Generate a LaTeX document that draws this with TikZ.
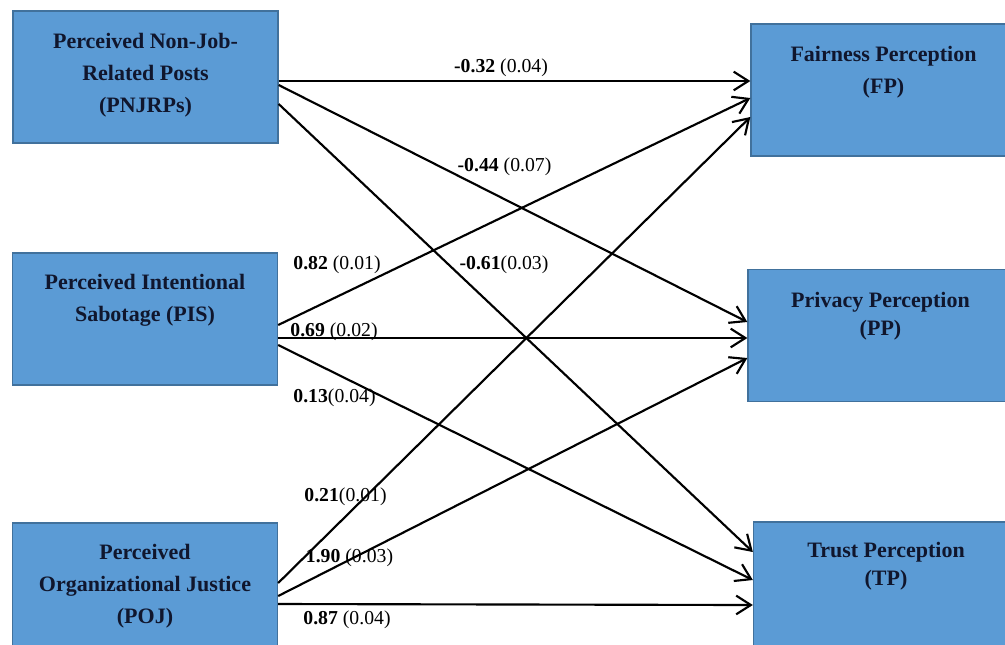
\documentclass[tikz,border=0pt]{standalone}
\usepackage{fontspec}
\setmainfont{Liberation Serif}
\usetikzlibrary{arrows.meta,calc}
\definecolor{boxblue}{RGB}{91,155,213}
\definecolor{boxedge}{RGB}{65,113,156}
\definecolor{boxink}{RGB}{16,22,45}
\tikzset{
  varbox/.style={draw=boxedge,line width=1pt,fill=boxblue,
    minimum width=198.75pt,minimum height=99pt,inner sep=0pt},
  vartext/.style={text=boxink,font=\fontsize{16.5}{24}\selectfont\bfseries,
    align=center,inner sep=0pt},
  vartight/.style={vartext,font=\fontsize{16.5}{21}\selectfont\bfseries},
  coef/.style={font=\fontsize{14.8}{17}\selectfont,inner sep=0pt},
  effect/.style={line width=1.6pt,-{Straight Barb[length=11pt,width=14pt]}}
}

\begin{document}
\begin{tikzpicture}[x=0.75pt,y=-0.75pt]
\useasboundingbox (0,0) rectangle (1005,644);
\clip (0,0) rectangle (1005,644);

% predictors
\node[varbox] (pnj) at (145.5,77) {};
\node[varbox] (pis) at (145,319) {};
\node[varbox] (poj) at (145,589) {};
% outcomes
\node[varbox] (fp) at (883.5,90) {};
\node[varbox] (pp) at (880.5,335.5) {};
\node[varbox] (tp) at (886,588) {};

\node[vartext] (pnjtext) at ($(pnj)+(0,-2)$) {Perceived Non-Job-\\Related Posts\\(PNJRPs)};
\node[vartext] (pistext) at ($(pis)+(0,-19)$) {Perceived Intentional\\Sabotage (PIS)};
\node[vartext] (pojtext) at ($(poj)+(0,-3)$) {Perceived\\Organizational Justice\\(POJ)};
\node[vartext] (fptext) at ($(fp)+(0,-18)$) {Fairness Perception\\(FP)};
\node[vartight] (pptext) at ($(pp)+(0,-19.5)$) {Privacy Perception\\(PP)};
\node[vartight] (tptext) at ($(tp)+(0,-22)$) {Trust Perception\\(TP)};

% path coefficients
\node[coef] (c1) at (501,68) {\textbf{-0.32} (0.04)};
\node[coef] (c2) at (504.5,167) {\textbf{-0.44} (0.07)};
\node[coef] (c3) at (337,265) {\textbf{0.82} (0.01)};
\node[coef] (c4) at (504,265) {\textbf{-0.61}(0.03)};
\node[coef] (c5) at (334,332) {\textbf{0.69} (0.02)};
\node[coef] (c6) at (334.5,398) {\textbf{0.13}(0.04)};
\node[coef] (c7) at (345.5,497) {\textbf{0.21}(0.01)};
\node[coef] (c8) at (349.5,558) {\textbf{1.90} (0.03)};
\node[coef] (c9) at (347,620) {\textbf{0.87} (0.04)};

% paths
\draw[effect] ($(pnj.east)+(0,4)$) -- ($(fp.west)+(0,-9)$);
\draw[effect] ($(pnj.east)+(0,8)$) -- ($(pp.west)+(0,-13.5)$);
\draw[effect] ($(pnj.east)+(0,27)$) -- ($(tp.west)+(0,-36)$);
\draw[effect] ($(pis.east)+(0,6)$) -- ($(fp.west)+(0,8)$);
\draw[effect] ($(pis.east)+(0,19)$) -- ($(pp.west)+(0,2.5)$);
\draw[effect] ($(pis.east)+(0,26)$) -- ($(tp.west)+(0,-8)$);
\draw[effect] ($(poj.east)+(0,-6)$) -- ($(fp.west)+(0,27)$);
\draw[effect] ($(poj.east)+(0,7)$) -- ($(pp.west)+(0,22.5)$);
\draw[effect] ($(poj.east)+(0,15)$) -- ($(tp.west)+(0,17)$);
\end{tikzpicture}
\end{document}
